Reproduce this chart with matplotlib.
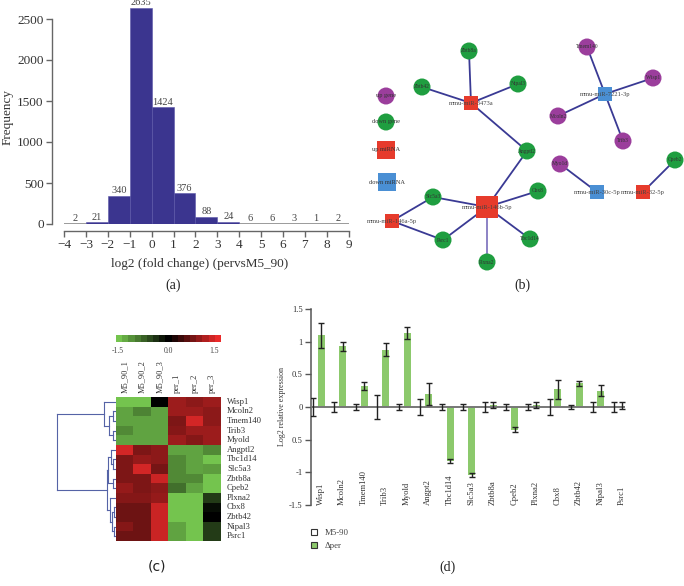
import numpy as np
import matplotlib
matplotlib.use("Agg")
import matplotlib.pyplot as plt
from matplotlib.colors import LinearSegmentedColormap
from matplotlib.patches import Patch

plt.rcParams['font.family'] = ['Liberation Serif', 'DejaVu Serif']
plt.rcParams['axes.unicode_minus'] = True

# ---------------- data ----------------
# (a) histogram
hist_bin_left = [-4, -3, -2, -1, 0, 1, 2, 3, 4, 5, 6, 7, 8]
hist_counts = [2, 21, 340, 2635, 1424, 376, 88, 24, 6, 6, 3, 1, 2]
hist_xticks = list(range(-4, 10))
hist_yticks = [0, 500, 1000, 1500, 2000, 2500]

# (b) network (layout coordinates of the original drawing)
gene_names = ["Zbtb8a", "Zbtb42", "Nipal3", "Angptl2", "Slc5a3", "Cbx8", "Psrc1",
              "Tbc1d14", "Plxna2", "Cpeb2", "Tmem140", "Wisp1", "Mcoln2", "Trib3", "Myo1d"]
gene_x = [469, 422, 518, 527, 433, 538, 443, 530, 487, 675, 587, 653, 558, 623, 560]
gene_y = [51, 87, 84, 151, 197, 191, 240, 239, 262, 160, 47, 78, 116, 141, 164]
gene_dir = ["down"] * 10 + ["up"] * 5
mirna_names = ["mmu-miR-3473a", "mmu-miR-146b-5p", "mmu-miR-146a-5p",
               "mmu-miR-7221-3p", "mmu-miR-30c-5p", "mmu-miR-32-5p"]
mirna_x = [471, 487, 392, 605, 597, 643]
mirna_y = [103, 207, 221, 94, 192, 192]
mirna_dir = ["up", "up", "up", "down", "down", "up"]
mirna_degree_big = [False, True, False, False, False, False]
edges = [("mmu-miR-3473a", "Zbtb8a"), ("mmu-miR-3473a", "Zbtb42"), ("mmu-miR-3473a", "Nipal3"),
         ("mmu-miR-3473a", "Angptl2"), ("mmu-miR-146b-5p", "Angptl2"), ("mmu-miR-146b-5p", "Slc5a3"),
         ("mmu-miR-146b-5p", "Cbx8"), ("mmu-miR-146b-5p", "Psrc1"), ("mmu-miR-146b-5p", "Tbc1d14"),
         ("mmu-miR-146b-5p", "Plxna2"), ("mmu-miR-146a-5p", "Slc5a3"), ("mmu-miR-146a-5p", "Psrc1"),
         ("mmu-miR-7221-3p", "Tmem140"), ("mmu-miR-7221-3p", "Wisp1"), ("mmu-miR-7221-3p", "Mcoln2"),
         ("mmu-miR-7221-3p", "Trib3"), ("mmu-miR-30c-5p", "Myo1d"), ("mmu-miR-32-5p", "Cpeb2")]
legend_labels = ["up gene", "down gene", "up miRNA", "down miRNA"]
legend_x = [386, 386, 386, 387]
legend_y = [96, 122, 150, 182]

# (c) heatmap
heat_cols = ["M5_90_1", "M5_90_2", "M5_90_3", "per_1", "per_2", "per_3"]
heat_rows = ["Wisp1", "Mcoln2", "Tmem140", "Trib3", "Myold", "Angptl2", "Tbc1d14", "Slc5a3",
             "Zbtb8a", "Cpeb2", "Plxna2", "Cbx8", "Zbtb42", "Nipal3", "Psrc1"]
heat_values = np.array([
    [-1.5, -1.5, 0.0, 1.0, 0.9, 1.0],
    [-1.25, -1.0, -1.25, 1.0, 1.0, 0.9],
    [-1.25, -1.25, -1.25, 0.8, 1.35, 0.9],
    [-1.05, -1.25, -1.25, 0.85, 1.0, 1.0],
    [-1.25, -1.25, -1.25, 1.0, 0.85, 1.0],
    [1.35, 0.8, 0.9, -1.25, -1.25, -1.05],
    [0.8, 0.95, 0.9, -1.05, -1.25, -1.5],
    [0.8, 1.35, 0.75, -1.05, -1.25, -1.2],
    [0.8, 0.8, 1.3, -1.05, -1.05, -1.5],
    [0.95, 0.8, 0.9, -0.85, -1.25, -1.5],
    [0.85, 0.85, 0.95, -1.5, -1.5, -0.45],
    [0.7, 0.7, 1.3, -1.5, -1.5, -0.1],
    [0.7, 0.7, 1.3, -1.5, -1.5, 0.0],
    [0.85, 0.7, 1.3, -1.25, -1.5, -0.45],
    [0.7, 0.7, 1.3, -1.25, -1.5, -0.45],
])
cbar_ticks = ["-1.5", "0.0", "1.5"]
# dendrogram merges: (left, right, height); leaves 0..14, new ids from 15
dendro_merges = [(1, 2, 3.3), (3, 4, 3.3), (15, 16, 6.7), (0, 17, 12),
                 (6, 7, 3.0), (5, 19, 5.0), (8, 9, 3.0), (20, 21, 7.7),
                 (11, 12, 2.0), (13, 14, 2.0), (23, 24, 4.0), (10, 25, 6.0),
                 (22, 26, 9.3), (18, 27, 58.7)]

# (d) bar chart
bar_genes = ["Wisp1", "Mcoln2", "Tmem140", "Trib3", "Myold", "Angpt2", "Tbc1d14", "Slc5a3",
             "Zbtb8a", "Cpeb2", "Plxna2", "Cbx8", "Zbtb42", "Nipal3", "Psrc1"]
m590_vals = [0] * 15
m590_err = [0.14, 0.07, 0.05, 0.18, 0.05, 0.12, 0.05, 0.05, 0.07, 0.05, 0.05, 0.12, 0.03, 0.08, 0.07]
per_vals = [1.1, 0.93, 0.32, 0.88, 1.13, 0.2, -0.82, -1.04, 0.03, -0.35, 0.03, 0.27, 0.36, 0.25, 0.02]
per_err = [0.19, 0.07, 0.06, 0.1, 0.09, 0.17, 0.03, 0.03, 0.05, 0.04, 0.04, 0.15, 0.04, 0.08, 0.05]
bar_yticks = [1.5, 1, 0.5, 0, -0.5, -1, -1.5]
bar_yticklabels = ["1.5", "1", "0.5", "0", "0.5", "-1", "-1.5"]

# ---------------- figure ----------------
W, H = 684, 586
fig = plt.figure(figsize=(W / 100, H / 100), dpi=100)
fig.patch.set_facecolor("white")


def px_axes(x0, y0, x1, y1):
    return fig.add_axes([x0 / W, 1 - y1 / H, (x1 - x0) / W, (y1 - y0) / H])


def ftext(x, y, s, **kw):
    fig.text(x / W, 1 - y / H, s, **kw)


# ---- (a) ----
gray = "#666666"
ax = px_axes(64, 2.6, 348.7, 224)
ax.set_xlim(-4, 9)
ax.set_ylim(0, 2700)
ax.axhline(0, color="#8a8a8a", lw=1.2, zorder=1)
ax.bar(hist_bin_left, hist_counts, width=1, align="edge", color="#3b358f",
       edgecolor="#5a55a8", linewidth=0.4, zorder=2)
for xl, c in zip(hist_bin_left, hist_counts):
    ax.text(xl + 0.5, c + 8, str(c), ha="center", va="bottom", fontsize=7.5,
            color="#444444", zorder=3, clip_on=False)
for s in ["top", "right"]:
    ax.spines[s].set_visible(False)
ax.spines["left"].set_position(("outward", 8.6))
ax.spines["bottom"].set_position(("outward", 5))
ax.spines["left"].set_bounds(0, 2500)
ax.spines["bottom"].set_bounds(-4, 9)
for s in ["left", "bottom"]:
    ax.spines[s].set_color(gray)
    ax.spines[s].set_linewidth(1.0)
ax.set_yticks(hist_yticks)
ax.set_xticks(hist_xticks)
ax.tick_params(direction="out", length=4, width=1, color=gray, labelsize=9.5,
               labelcolor="#333333", pad=2)
ax.patch.set_visible(False)
ftext(200, 264, "log2 (fold change) (pervsM5_90)", ha="center", va="center",
      fontsize=9.5, color="#333333")
ftext(8, 117, "Frequency", ha="center", va="center", rotation=90, fontsize=9.5,
      color="#333333")
ftext(173, 285, "(a)", ha="center", va="center", fontsize=10, color="#222222")

# ---- (b) ----
axb = px_axes(340, 0, 684, 290)
axb.set_xlim(340, 684)
axb.set_ylim(290, 0)
axb.axis("off")
green, purple, red, blue = "#1f9e40", "#9b3e9c", "#e63b2c", "#4a8fd4"
pos = {}
for n, x, y in zip(gene_names, gene_x, gene_y):
    pos[n] = (x, y)
for n, x, y in zip(mirna_names, mirna_x, mirna_y):
    pos[n] = (x, y)
for a, b in edges:
    (x0, y0), (x1, y1) = pos[a], pos[b]
    col = "#8478c0" if b == "Plxna2" else "#3a3a94"
    axb.plot([x0, x1], [y0, y1], color=col, lw=1.3, zorder=1)
for n, x, y, d in zip(gene_names, gene_x, gene_y, gene_dir):
    axb.scatter([x], [y], s=150, marker="o", color=purple if d == "up" else green,
                edgecolors="none", zorder=2)
    axb.text(x, y, n, ha="center", va="center", fontsize=4, color="#333333", zorder=4)
for n, x, y, d, big in zip(mirna_names, mirna_x, mirna_y, mirna_dir, mirna_degree_big):
    axb.scatter([x], [y], s=235 if big else 88, marker="s", color=red if d == "up" else blue,
                edgecolors="none", zorder=3)
    axb.text(x, y + 0.5, n, ha="center", va="center", fontsize=4.7, color="#444444", zorder=4)
leg_marker = ["o", "o", "s", "s"]
leg_color = [purple, green, red, blue]
leg_size = [150, 150, 170, 170]
for lab, x, y, m, c, s in zip(legend_labels, legend_x, legend_y, leg_marker, leg_color, leg_size):
    axb.scatter([x], [y], s=s, marker=m, color=c, edgecolors="none", zorder=2)
    axb.text(x, y, lab, ha="center", va="center", fontsize=4.6, color="#333333", zorder=4)
ftext(522, 285, "(b)", ha="center", va="center", fontsize=10, color="#222222")

# ---- (c) ----
cmap = LinearSegmentedColormap.from_list(
    "gkr", [(0.0, "#74c44e"), (0.5, "#000000"), (1.0, "#ea2a2a")])
axc = px_axes(116, 397, 221, 541)
axc.imshow(heat_values, cmap=cmap, vmin=-1.5, vmax=1.5, aspect="auto",
           interpolation="nearest")
axc.axis("off")
for j, c in enumerate(heat_cols):
    axc.text(j, -0.9, c, rotation=90, ha="center", va="bottom", fontsize=6,
             color="#333333")
for i, r in enumerate(heat_rows):
    axc.text(5.85, i, r, ha="left", va="center", fontsize=6.2, color="#333333")
# colorbar
axcb = px_axes(116, 335, 221, 342)
axcb.imshow(np.linspace(-1.5, 1.5, 17)[None, :], cmap=cmap, vmin=-1.5, vmax=1.5,
            aspect="auto", interpolation="nearest")
axcb.axis("off")
for t, xx in zip(cbar_ticks, [118, 168, 214]):
    ftext(xx, 351, t, ha="center", va="center", fontsize=5.5, color="#444444")
# dendrogram
axd0 = px_axes(50, 397, 116, 541)
axd0.set_xlim(66, 0)
axd0.set_ylim(15, 0)
axd0.axis("off")
node_y = {i: i + 0.5 for i in range(15)}
node_h = {i: 0.0 for i in range(15)}
dcol = "#5563a6"
for k, (a, b, h) in enumerate(dendro_merges):
    nid = 15 + k
    ya, yb = node_y[a], node_y[b]
    axd0.plot([node_h[a], h], [ya, ya], color=dcol, lw=0.8)
    axd0.plot([node_h[b], h], [yb, yb], color=dcol, lw=0.8)
    axd0.plot([h, h], [ya, yb], color=dcol, lw=0.8)
    node_y[nid] = (ya + yb) / 2
    node_h[nid] = h
ftext(157, 567, "(c)", ha="center", va="center", fontsize=10, color="#222222",
      family=["DejaVu Sans"])

# ---- (d) ----
axd = px_axes(311, 309, 625, 505)
axd.set_xlim(-0.28, 14.32)
axd.set_ylim(-1.5, 1.5)
xc = np.arange(len(bar_genes))
off = 0.19
bw = 0.33
per_green = "#8cc96c"
axd.bar(xc - off, m590_vals, width=bw, color="white", edgecolor="none", zorder=2)
axd.bar(xc + off, per_vals, width=bw, color=per_green, edgecolor="none", zorder=2)
axd.errorbar(xc - off, m590_vals, yerr=m590_err, fmt="none", ecolor="#222222",
             elinewidth=1.0, capsize=2.2, capthick=1.0, zorder=4)
axd.errorbar(xc + off, per_vals, yerr=per_err, fmt="none", ecolor="#222222",
             elinewidth=1.0, capsize=2.2, capthick=1.0, zorder=4)
axd.axhline(0, color="#777777", lw=1.4, zorder=3)
for s in ["top", "right", "bottom"]:
    axd.spines[s].set_visible(False)
axd.spines["left"].set_color("#555555")
axd.spines["left"].set_linewidth(1.1)
axd.set_yticks(bar_yticks)
axd.set_yticklabels(bar_yticklabels)
axd.set_xticks([])
axd.tick_params(axis="y", direction="out", length=4, width=1, color="#555555",
                labelsize=6.2, labelcolor="#333333", pad=2)
for i, g in enumerate(bar_genes):
    axd.text(i + 0.17, -1.5, g, rotation=90, ha="center", va="bottom", fontsize=6.2,
             color="#333333")
axd.patch.set_visible(False)
ftext(282, 407, "Log2 relative expression", rotation=90, ha="center", va="center",
      fontsize=5.8, color="#333333")
fig.legend(handles=[Patch(facecolor="white", edgecolor="#333333", lw=0.8),
                    Patch(facecolor=per_green, edgecolor="#333333", lw=0.8)],
           labels=["M5-90", "\u0394per"], loc="upper left",
           bbox_to_anchor=(303 / W, 1 - 521 / H), frameon=False, fontsize=6.3,
           handlelength=0.7, handleheight=0.7, handletextpad=0.9, labelspacing=0.55,
           labelcolor="#444444")
ftext(448, 567, "(d)", ha="center", va="center", fontsize=10, color="#222222")

fig.savefig("out.png", dpi=100, facecolor="white")
